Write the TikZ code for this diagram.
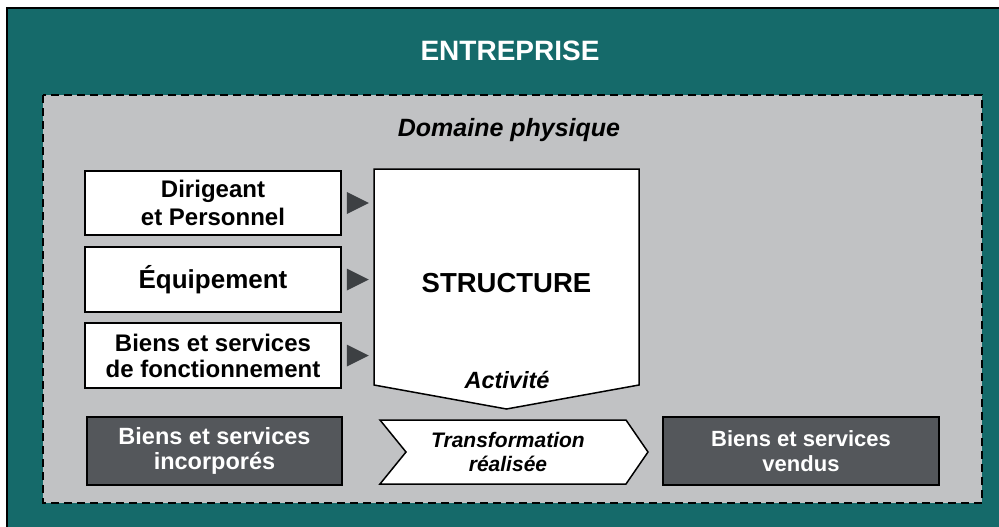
\documentclass[tikz,border=0pt]{standalone}
\usepackage{fontspec}
\setmainfont{Liberation Sans}
\usetikzlibrary{calc}
\definecolor{teal}{HTML}{156A6A}
\definecolor{panel}{HTML}{C1C2C4}
\definecolor{darkbox}{HTML}{54575B}
\definecolor{tipgrey}{HTML}{3D4043}
\newcommand{\fs}[2]{\fontsize{#1}{#2}\selectfont}
\begin{document}
\begin{tikzpicture}[x=1pt,y=-1pt,
  whitebox/.style={draw=black,line width=1.5pt,fill=white,minimum width=256pt,
    inner sep=0pt,align=center,font=\bfseries\fs{24}{28}},
  darkrect/.style={draw=black,line width=1.5pt,fill=darkbox,text=white,
    inner sep=0pt,align=center,minimum height=68pt},
  feed/.style={fill=tipgrey}]
\useasboundingbox (0,0) rectangle (999,527);
% outer frame
\fill[teal] (7,8) rectangle (1010,540);
\draw[black,line width=2.5pt] (7,540) -- (7,8) -- (1010,8);
\node[text=white,font=\bfseries\fs{28}{32}] (title) at (510,51) {ENTREPRISE};
% physical domain panel
\draw[fill=panel,line width=1.5pt,dash pattern=on 8pt off 5pt] (43,95) rectangle (982,503);
\node[font=\bfseries\itshape\fs{25}{30}] (domain) at (509,130) {Domaine physique};
% resources
\node[whitebox,minimum height=64pt] (dir) at (213,203) {Dirigeant\\et Personnel};
\node[whitebox,minimum height=65pt,font=\bfseries\fs{26}{30}] (equip) at (213,279.5) {Équipement};
\node[whitebox,minimum height=65pt,font=\bfseries\fs{24}{26}] (bsf) at (213,355.5) {Biens et services\\de fonctionnement};
% structure block
\draw[fill=white,line width=1.5pt,line join=miter]
  (374,169) -- (639,169) -- (639,385) -- (506.5,409) -- (374,385) -- cycle;
\node[font=\bfseries\fs{27.5}{30}] (struct) at (506.5,283) {STRUCTURE};
\node[font=\bfseries\itshape\fs{23.5}{28}] (act) at (507,380) {Activité};
% feed tips from resources into the structure
\foreach \r in {dir,equip,bsf}{
  \fill[feed] ($(\r.east)+(5,-11)$) -- ($(\r.east)+(27,0)$) -- ($(\r.east)+(5,11)$) -- cycle;
}
% bottom row
\node[darkrect,minimum width=255pt,font=\bfseries\fs{23.5}{25}] (inc) at (214.5,451) {Biens et services\\incorporés};
\draw[fill=white,line width=1.5pt,line join=miter]
  (380,420) -- (626,420) -- (648,452) -- (626,484) -- (380,484) -- (406,452) -- cycle;
\node[align=center,font=\bfseries\itshape\fs{21}{24}] (transf) at (508,452) {Transformation\\réalisée};
\node[darkrect,minimum width=276pt,font=\bfseries\fs{22}{25}] (vend) at (801,451) {Biens et services\\vendus};
\end{tikzpicture}
\end{document}
